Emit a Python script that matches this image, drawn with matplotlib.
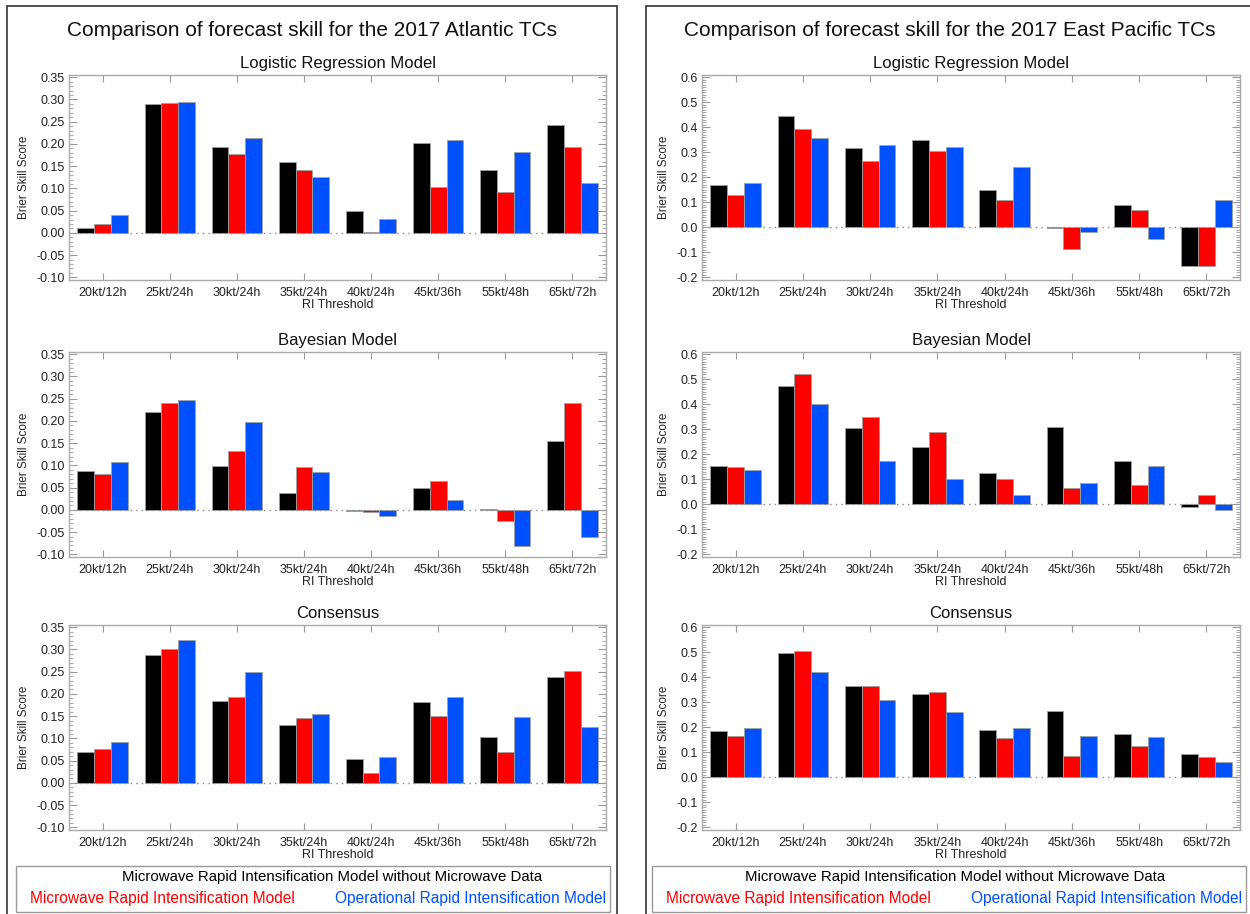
import matplotlib
matplotlib.use("Agg")
import matplotlib.pyplot as plt
import numpy as np
from matplotlib.ticker import MultipleLocator
from matplotlib.patches import Rectangle

plt.rcParams['font.family'] = ['Liberation Sans', 'DejaVu Sans']

thresholds = ['20kt/12h', '25kt/24h', '30kt/24h', '35kt/24h',
              '40kt/24h', '45kt/36h', '55kt/48h', '65kt/72h']
panel_titles = ['Logistic Regression Model', 'Bayesian Model', 'Consensus']

# Atlantic: no microwave (black), microwave (red), operational (blue)
atl_lr_nomw = [0.012, 0.290, 0.194, 0.159, 0.050, 0.201, 0.141, 0.243]
atl_lr_mw = [0.021, 0.292, 0.177, 0.142, 0.001, 0.103, 0.092, 0.194]
atl_lr_op = [0.040, 0.294, 0.213, 0.125, 0.032, 0.209, 0.182, 0.113]

atl_bay_nomw = [0.088, 0.220, 0.099, 0.039, -0.002, 0.049, 0.002, 0.155]
atl_bay_mw = [0.081, 0.241, 0.132, 0.097, -0.005, 0.066, -0.026, 0.241]
atl_bay_op = [0.107, 0.247, 0.197, 0.085, -0.014, 0.022, -0.082, -0.062]

atl_con_nomw = [0.069, 0.288, 0.184, 0.129, 0.054, 0.182, 0.103, 0.238]
atl_con_mw = [0.076, 0.300, 0.192, 0.146, 0.023, 0.150, 0.069, 0.251]
atl_con_op = [0.091, 0.322, 0.249, 0.154, 0.058, 0.192, 0.148, 0.125]

# East Pacific
ep_lr_nomw = [0.169, 0.444, 0.317, 0.349, 0.147, -0.002, 0.087, -0.157]
ep_lr_mw = [0.129, 0.394, 0.264, 0.305, 0.109, -0.086, 0.068, -0.155]
ep_lr_op = [0.177, 0.358, 0.330, 0.321, 0.242, -0.018, -0.049, 0.109]

ep_bay_nomw = [0.151, 0.473, 0.305, 0.229, 0.123, 0.309, 0.173, -0.010]
ep_bay_mw = [0.148, 0.521, 0.349, 0.291, 0.099, 0.065, 0.076, 0.036]
ep_bay_op = [0.136, 0.400, 0.174, 0.099, 0.035, 0.083, 0.151, -0.022]

ep_con_nomw = [0.186, 0.496, 0.367, 0.334, 0.190, 0.265, 0.174, 0.093]
ep_con_mw = [0.164, 0.507, 0.364, 0.341, 0.157, 0.086, 0.126, 0.082]
ep_con_op = [0.198, 0.420, 0.311, 0.263, 0.196, 0.164, 0.160, 0.060]

atl_data = [(atl_lr_nomw, atl_lr_mw, atl_lr_op),
            (atl_bay_nomw, atl_bay_mw, atl_bay_op),
            (atl_con_nomw, atl_con_mw, atl_con_op)]
ep_data = [(ep_lr_nomw, ep_lr_mw, ep_lr_op),
           (ep_bay_nomw, ep_bay_mw, ep_bay_op),
           (ep_con_nomw, ep_con_mw, ep_con_op)]

colors = ['black', '#ff0000', '#0050ff']
W, H = 1250, 914
fig = plt.figure(figsize=(W / 100, H / 100), dpi=100)


def px(x0, y0, x1, y1):
    # pixel box -> figure fraction [left, bottom, width, height]
    return [x0 / W, 1 - y1 / H, (x1 - x0) / W, (y1 - y0) / H]


def draw_panel(box, series, ylim, major, minor, fmt, title):
    ax = fig.add_axes(px(*box))
    x = np.arange(len(thresholds)) + 0.5
    bw = 0.25
    ax.axhline(0, color='#888888', ls=(0, (1, 3)), lw=1, zorder=1)
    for k, vals in enumerate(series):
        ax.bar(x + (k - 1) * bw, vals, bw, color=colors[k],
               edgecolor='#a0a0a0', linewidth=0.6, zorder=2)
    ax.set_xlim(0, 8)
    ax.set_ylim(*ylim)
    ax.set_xticks(x)
    ax.set_xticklabels(thresholds, fontsize=9, color='#222222')
    ax.yaxis.set_major_locator(MultipleLocator(major))
    ax.yaxis.set_minor_locator(MultipleLocator(minor))
    ax.set_yticks([t for t in ax.get_yticks() if ylim[0] <= t <= ylim[1]])
    ax.set_yticklabels([fmt % t if abs(t) > 1e-9 else fmt % 0 for t in ax.get_yticks()],
                       fontsize=9, color='#222222')
    ax.tick_params(axis='both', which='both', direction='in', color='#999999',
                   top=True, right=True)
    ax.tick_params(axis='y', which='major', length=6, width=0.8, pad=3)
    ax.tick_params(axis='y', which='minor', length=3, width=0.6)
    ax.tick_params(axis='x', which='major', length=5, width=0.8, pad=5)
    for s in ax.spines.values():
        s.set_color('#aaaaaa')
        s.set_linewidth(1.0)
    ax.set_ylabel('Brier Skill Score', fontsize=8.5, color='#222222', labelpad=5)
    ax.set_xlabel('RI Threshold', fontsize=9, color='#222222', labelpad=0)
    ax.set_title(title, fontsize=12, color='#111111', pad=5)
    return ax


rows = [(75, 280), (352, 557), (625, 830)]
for i, (y0, y1) in enumerate(rows):
    draw_panel((69, y0, 606, y1), atl_data[i], (-0.106, 0.355), 0.05, 0.01,
               '%.2f', panel_titles[i])
    draw_panel((702, y0, 1240, y1), ep_data[i], (-0.212, 0.61), 0.1, 0.01,
               '%.1f', panel_titles[i])

fig.text(312 / W, 1 - 31 / H, 'Comparison of forecast skill for the 2017 Atlantic TCs',
         ha='center', va='center', fontsize=15, color='#111111')
fig.text(950 / W, 1 - 31 / H, 'Comparison of forecast skill for the 2017 East Pacific TCs',
         ha='center', va='center', fontsize=15, color='#111111')

# outer frames
fig.patches.append(Rectangle((7 / W, -0.01), (617 - 7) / W, 1 - 6 / H + 0.01,
                             transform=fig.transFigure, fill=False,
                             edgecolor='#333333', lw=1.2))
fig.patches.append(Rectangle((646 / W, -0.01), (1260 - 646) / W, 1 - 6 / H + 0.01,
                             transform=fig.transFigure, fill=False,
                             edgecolor='#333333', lw=1.2))

# legend boxes
for (bx0, bx1, cx) in [(16, 610, 332), (652, 1246, 955)]:
    fig.patches.append(Rectangle((bx0 / W, 1 - 912 / H), (bx1 - bx0) / W, (912 - 866) / H,
                                 transform=fig.transFigure, fill=False,
                                 edgecolor='#999999', lw=1.0))
    fig.text(cx / W, 1 - 877 / H,
             'Microwave Rapid Intensification Model without Microwave Data',
             ha='center', va='center', fontsize=10.8, color='black')
    fig.text((bx0 + 14) / W, 1 - 898 / H, 'Microwave Rapid Intensification Model',
             ha='left', va='center', fontsize=11.2, color='#ff0000')
    fig.text((bx1 - 4) / W, 1 - 898 / H, 'Operational Rapid Intensification Model',
             ha='right', va='center', fontsize=11.2, color='#0050ff')

fig.savefig('out.png', dpi=100)
